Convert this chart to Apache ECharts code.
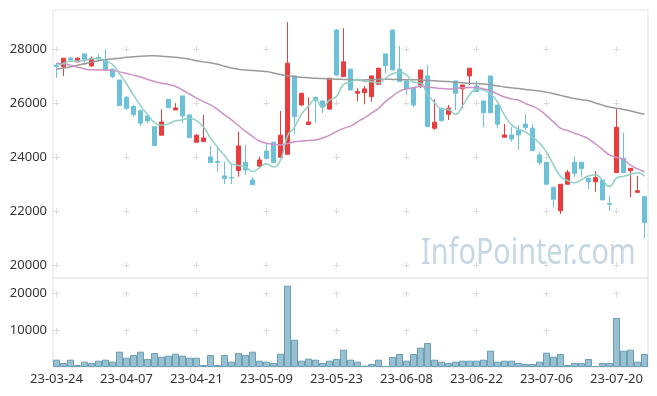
<!DOCTYPE html>
<html><head><meta charset="utf-8">
<script src="https://cdn.jsdelivr.net/npm/echarts@6/dist/echarts.min.js"></script>
<style>html,body{margin:0;padding:0;background:#fff}#c{width:657px;height:396px}</style>
</head><body><div id="c"></div>
<script>
const dates = ['23-03-24','23-03-27','23-03-28','23-03-29','23-03-30','23-03-31','23-04-03','23-04-04','23-04-05','23-04-06','23-04-07','23-04-10','23-04-11','23-04-12','23-04-13','23-04-14','23-04-17','23-04-18','23-04-19','23-04-20','23-04-21','23-04-24','23-04-25','23-04-26','23-04-27','23-04-28','23-05-02','23-05-03','23-05-04','23-05-08','23-05-09','23-05-10','23-05-11','23-05-12','23-05-15','23-05-16','23-05-17','23-05-18','23-05-19','23-05-22','23-05-23','23-05-24','23-05-25','23-05-26','23-05-30','23-05-31','23-06-01','23-06-02','23-06-05','23-06-07','23-06-08','23-06-09','23-06-12','23-06-13','23-06-14','23-06-15','23-06-16','23-06-19','23-06-20','23-06-21','23-06-22','23-06-23','23-06-26','23-06-27','23-06-28','23-06-29','23-06-30','23-07-03','23-07-04','23-07-05','23-07-06','23-07-07','23-07-10','23-07-11','23-07-12','23-07-13','23-07-14','23-07-17','23-07-18','23-07-19','23-07-20','23-07-21','23-07-24','23-07-25','23-07-26'];
const opens = [27400,27345,27660,27520,27815,27370,27680,27590,27250,26850,26210,25865,25715,25520,25120,24805,26135,25740,26260,25555,24545,24570,24000,23830,23300,23240,23500,23800,23150,23665,24220,24545,23990,24100,27000,25925,25200,26210,26075,25770,28700,26975,27250,26360,26380,26235,26690,27815,28700,27250,26815,26545,26665,27000,25065,25805,25580,26815,26520,27000,26630,26075,27000,25925,24730,24815,25000,25220,25065,24075,23805,22880,22010,22990,23805,23805,23210,23085,23150,22280,23420,23950,23490,22690,22530];
const closes = [27350,27655,27590,27655,27618,27655,27650,27220,26975,25900,25800,25570,25250,25335,24420,25295,25827,25815,25520,24715,24805,24705,23790,23800,23200,23220,24410,23520,22975,23890,23950,23790,24805,27470,25495,26360,25295,26085,25865,26915,27035,27520,26480,26420,26520,27000,27285,27380,27220,26790,26520,25925,27220,25120,25285,25345,25805,26360,26665,27285,26420,25640,25640,25210,24815,24665,24815,25085,24235,23790,22990,22435,22990,23435,23395,23565,23085,23235,22410,22250,25100,23420,23580,22750,21570];
const lows = [26930,27000,27560,27520,27400,27345,27530,27220,26915,25900,25740,25495,25150,25250,24420,24805,25800,25740,25250,24715,24545,24570,23790,23460,23000,23000,23270,23340,22975,23580,23950,23790,23990,24100,24850,25890,25200,25270,25620,25770,27000,26975,26480,26050,25950,26050,26690,27100,27220,26790,26300,25840,26545,25120,25000,25310,25370,25740,25805,26665,26420,25100,25640,25065,24730,24570,24260,25000,24235,23700,22990,22140,21890,22990,23250,23250,22805,22715,22410,22010,23420,23420,22510,22690,20990];
const highs = [27480,27656,27700,27690,27815,27720,27815,27990,27250,26850,26260,25925,25750,25550,25120,25767,26135,25990,26260,25555,24850,25555,24410,24410,23830,23740,24940,24450,23270,24010,24510,24545,25700,28990,27000,26360,26210,26210,26075,26915,28730,28765,27250,26545,26630,27000,27285,27815,28700,28110,26815,26545,27220,27410,26135,25805,25925,26815,26665,27285,26815,26075,27000,25925,25220,25120,25185,25590,25220,24200,23805,22880,22990,23520,24010,23805,23250,23490,23170,22555,25770,24900,23580,23300,22530];
const volumes = [1980,1080,1980,540,1440,1080,1710,1980,1440,4140,2520,3240,4140,2160,3780,2790,3060,3600,3060,2520,2520,540,3240,540,3240,1440,3780,3240,4140,1710,1440,1080,3600,21960,7380,1710,2250,1980,1080,1710,2160,4680,1980,1440,360,810,1980,270,2700,3510,1710,3510,5220,6480,1980,1440,1080,1440,1710,1710,1710,1980,4410,1440,1710,1710,1080,810,810,1440,3870,2790,3510,540,1080,1080,2160,270,1080,1080,13230,4410,4680,1440,3510];
const ma5 = [27360,27470,27545,27555,27574,27635,27634,27560,27424,27080,26709,26293,25899,25571,25275,25174,25225,25338,25375,25434,25336,25112,24707,24363,24060,23743,23684,23630,23465,23603,23749,23625,23882,24781,25102,25584,25885,26141,25820,26104,26239,26684,26763,26874,26795,26788,26741,26921,27081,27135,27039,26767,26735,26315,26014,25779,25755,25583,25892,26292,26507,26474,26330,26039,25545,25194,25029,24918,24723,24518,24183,23707,23288,23128,23049,23164,23294,23343,23138,22909,23216,23283,23352,23420,23284];
const ma20 = [27470,27440,27400,27330,27260,27225,27220,27220,27200,27150,27090,27030,26960,26870,26790,26730,26680,26610,26480,26330,26180,26050,25930,25760,25560,25370,25160,24950,24760,24590,24510,24470,24445,24500,24560,24590,24610,24630,24700,24800,24940,25060,25140,25300,25450,25620,25800,26050,26250,26430,26520,26560,26630,26590,26560,26530,26520,26540,26560,26570,26560,26520,26445,26330,26220,26150,26100,25980,25880,25740,25530,25300,25065,24980,24880,24790,24670,24480,24280,24075,23990,23900,23700,23560,23450];
const ma60 = [27250,27290,27340,27400,27450,27510,27560,27600,27630,27655,27690,27710,27730,27740,27745,27730,27710,27690,27655,27620,27560,27520,27490,27430,27360,27290,27250,27220,27200,27180,27160,27110,27050,27000,26975,26950,26930,26910,26900,26890,26880,26870,26860,26850,26850,26860,26870,26875,26870,26865,26860,26855,26850,26835,26820,26800,26790,26770,26750,26730,26715,26700,26670,26630,26590,26560,26530,26500,26470,26445,26400,26340,26280,26220,26160,26120,26080,26000,25920,25850,25800,25760,25700,25640,25580];
const priceTicks = [20000,22000,24000,26000,28000];
const volumeTicks = [10000,20000];

const candleData = dates.map((d,i)=>[opens[i],closes[i],lows[i],highs[i]]);
const font = 'Noto Sans';
const plain = v => String(v);
const plusH = {show:true,lineStyle:{color:'#dcdcdc',width:1,type:[6,64],dashOffset:69.5}};
const chart = echarts.init(document.getElementById('c'),null,{renderer:'canvas'});
chart.setOption({
  animation:false,
  backgroundColor:'#fff',
  grid:[
    {left:53,right:9,top:10,height:268,show:true,borderColor:'#e3e3e3',borderWidth:1},
    {left:53,right:9,top:278,height:89,show:true,borderColor:'#e3e3e3',borderWidth:1}
  ],
  graphic:[{type:'text',left:421,top:236,z:-1,style:{text:'InfoPointer.com',font:'36px "Noto Sans"',fill:'rgba(120,160,190,0.42)'},scaleX:0.8}],
  xAxis:[
    {type:'category',gridIndex:0,data:dates,boundaryGap:true,axisLine:{show:false},axisTick:{show:false,alignWithLabel:true,interval:9},axisLabel:{show:false,interval:9},
     splitLine:{show:true,interval:9,alignWithLabel:true,lineStyle:{color:'#dcdcdc',type:[6,48],dashOffset:18}}},
    {type:'category',gridIndex:1,data:dates,boundaryGap:true,axisLine:{show:false},axisTick:{show:false,alignWithLabel:true,interval:9},
     axisLabel:{interval:9,color:'#333',fontFamily:font,fontSize:13,margin:6},
     splitLine:{show:true,interval:9,alignWithLabel:true,lineStyle:{color:'#dcdcdc',type:[6,31],dashOffset:24}}}
  ],
  yAxis:[
    {type:'value',gridIndex:0,min:19520,max:29440,axisLine:{show:false},axisTick:{show:false,customValues:priceTicks},
     axisLabel:{customValues:priceTicks,formatter:plain,color:'#333',fontFamily:font,fontSize:13,margin:6},splitLine:plusH},
    {type:'value',gridIndex:1,min:0,max:24050,axisLine:{show:false},axisTick:{show:false,customValues:volumeTicks},
     axisLabel:{customValues:volumeTicks,formatter:plain,color:'#333',fontFamily:font,fontSize:13,margin:6},splitLine:plusH}
  ],
  series:[
    {type:'candlestick',xAxisIndex:0,yAxisIndex:0,data:candleData,barWidth:'72%',
     itemStyle:{color:'#ea3b3d',color0:'#6cc1d9',borderColor:'#ea3b3d',borderColor0:'#6cc1d9',borderWidth:1}},
    {type:'line',xAxisIndex:0,yAxisIndex:0,data:ma60,smooth:true,symbol:'none',lineStyle:{color:'#9a9a9a',width:1.5}},
    {type:'line',xAxisIndex:0,yAxisIndex:0,data:ma20,smooth:true,symbol:'none',lineStyle:{color:'#cc92c6',width:1.5}},
    {type:'line',xAxisIndex:0,yAxisIndex:0,data:ma5,smooth:true,symbol:'none',lineStyle:{color:'#8ed0c3',width:1.5}},
    {type:'bar',xAxisIndex:1,yAxisIndex:1,data:volumes,barWidth:'100%',
     itemStyle:{color:'#98c0d1',borderColor:'#6c9fb6',borderWidth:1}}
  ]
});
</script></body></html>
